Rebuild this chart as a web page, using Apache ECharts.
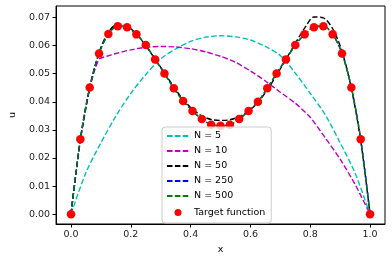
<!DOCTYPE html>
<html>
<head>
<meta charset="utf-8">
<script src="https://cdn.jsdelivr.net/npm/echarts@6/dist/echarts.min.js"></script>
<style>
html,body{margin:0;padding:0;background:#fff;}
#c{width:392px;height:262px;}
</style>
</head>
<body>
<div id="c"></div>
<script>
// ---- data ----
const targetX = [0, 0.03125, 0.0625, 0.09375, 0.125, 0.15625, 0.1875, 0.21875, 0.25, 0.28125, 0.3125, 0.34375, 0.375, 0.40625, 0.4375, 0.46875, 0.5, 0.53125, 0.5625, 0.59375, 0.625, 0.65625, 0.6875, 0.71875, 0.75, 0.78125, 0.8125, 0.84375, 0.875, 0.90625, 0.9375, 0.96875, 1];
const targetY = [0, 0.0267, 0.0451, 0.0572, 0.0641, 0.0669, 0.0665, 0.0640, 0.0602, 0.0551, 0.0501, 0.0448, 0.0403, 0.0367, 0.0339, 0.0318, 0.0315, 0.0318, 0.0339, 0.0367, 0.0400, 0.0448, 0.0501, 0.0551, 0.0602, 0.0640, 0.0665, 0.0669, 0.0640, 0.0572, 0.0451, 0.0267, 0];

const n5X = [0, 0.05, 0.1, 0.15, 0.2, 0.25, 0.3, 0.35, 0.4, 0.45, 0.5, 0.55, 0.6, 0.65, 0.7, 0.75, 0.8, 0.85, 0.9, 0.95, 1];
const n5Y = [0, 0.0148, 0.0254, 0.0349, 0.0430, 0.0497, 0.0553, 0.0588, 0.0615, 0.0630, 0.0635, 0.0631, 0.0620, 0.0597, 0.0565, 0.0502, 0.0430, 0.0354, 0.0254, 0.0146, 0];

const n10X = [0, 0.03125, 0.0625, 0.08, 0.095, 0.12, 0.15, 0.2, 0.25, 0.3, 0.35, 0.4, 0.45, 0.5, 0.55, 0.6, 0.65, 0.7, 0.75, 0.8, 0.85, 0.9, 0.95, 1];
const n10Y = [0, 0.0262, 0.0448, 0.0515, 0.0553, 0.0562, 0.0572, 0.0585, 0.0594, 0.0597, 0.0595, 0.0589, 0.0578, 0.0562, 0.0541, 0.0510, 0.0474, 0.0434, 0.0395, 0.0345, 0.0272, 0.0196, 0.0106, 0];

const n50X = targetX;
const n50Y = [0, 0.0265, 0.0450, 0.0575, 0.0648, 0.0676, 0.0670, 0.0641, 0.0600, 0.0552, 0.0503, 0.0453, 0.0408, 0.0374, 0.0350, 0.0337, 0.0334, 0.0336, 0.0347, 0.0367, 0.0398, 0.0442, 0.0495, 0.0551, 0.0608, 0.0662, 0.0702, 0.0699, 0.0660, 0.0580, 0.0448, 0.0262, 0];

const n250X = targetX;
const n250Y = [0, 0.0267, 0.0451, 0.0572, 0.0642, 0.0670, 0.0666, 0.0640, 0.0602, 0.0551, 0.0501, 0.0448, 0.0403, 0.0367, 0.0339, 0.0318, 0.0315, 0.0318, 0.0339, 0.0367, 0.0400, 0.0448, 0.0501, 0.0551, 0.0602, 0.0641, 0.0667, 0.0670, 0.0641, 0.0572, 0.0451, 0.0267, 0];

const n500X = targetX;
const n500Y = [0, 0.0267, 0.0451, 0.0572, 0.0641, 0.0669, 0.0665, 0.0640, 0.0602, 0.0551, 0.0501, 0.0448, 0.0403, 0.0367, 0.0339, 0.0318, 0.0315, 0.0318, 0.0339, 0.0367, 0.0400, 0.0448, 0.0501, 0.0551, 0.0602, 0.0640, 0.0665, 0.0669, 0.0640, 0.0572, 0.0451, 0.0267, 0];

const xTicks = [0, 0.2, 0.4, 0.6, 0.8, 1.0];
const yTicks = [0, 0.01, 0.02, 0.03, 0.04, 0.05, 0.06, 0.07];
const seriesNames = ['N = 5', 'N = 10', 'N = 50', 'N = 250', 'N = 500', 'Target function'];

// ---- chart ----
const zip = (xs, ys) => xs.map((x, i) => [x, ys[i]]);
const FONT = 'DejaVu Sans';
const dash = [5.5, 2.4];
function lineSeries(name, xs, ys, color, smooth) {
  return {
    name: name, type: 'line', data: zip(xs, ys),
    symbol: 'none', showSymbol: false, smooth: smooth,
    lineStyle: { color: color, width: 1.4, type: dash },
    itemStyle: { color: color },
    z: 2
  };
}

const legendData = seriesNames.map((n, i) => i < 5
  ? { name: n, itemStyle: { opacity: 0 } }
  : { name: n, icon: 'circle', itemStyle: { borderColor: '#ffffff', borderWidth: 3 } });

const chart = echarts.init(document.getElementById('c'), null, { renderer: 'canvas' });
chart.setOption({
  animation: false,
  backgroundColor: '#fff',
  grid: { left: 51, right: 7, top: 6, bottom: 38, show: true, borderColor: '#000', borderWidth: 1, backgroundColor: 'transparent' },
  xAxis: {
    type: 'value', min: -0.05, max: 1.05,
    name: 'x', nameLocation: 'middle', nameGap: 21,
    nameTextStyle: { fontFamily: FONT, fontSize: 9.5, color: '#000' },
    axisLine: { show: true, onZero: false, lineStyle: { color: '#000', width: 1 } },
    axisTick: { show: true, inside: false, length: 3.5, customValues: xTicks, lineStyle: { color: '#000' } },
    axisLabel: { customValues: xTicks, margin: 6, fontFamily: FONT, fontSize: 9.5, color: '#222',
      formatter: v => v.toFixed(1) },
    splitLine: { show: false }
  },
  yAxis: {
    type: 'value', min: -0.0035, max: 0.0741,
    name: 'u', nameLocation: 'middle', nameGap: 37, nameRotate: 90,
    nameTextStyle: { fontFamily: FONT, fontSize: 9.5, color: '#000' },
    axisLine: { show: true, onZero: false, lineStyle: { color: '#000', width: 1 } },
    axisTick: { show: true, inside: false, length: 3.5, customValues: yTicks, lineStyle: { color: '#000' } },
    axisLabel: { customValues: yTicks, margin: 6, fontFamily: FONT, fontSize: 9.5, color: '#222',
      formatter: v => v.toFixed(2) },
    splitLine: { show: false }
  },
  legend: {
    orient: 'vertical', left: 162, top: 127,
    data: legendData,
    itemWidth: 22, itemHeight: 10, itemGap: 5,
    padding: [4, 6, 4, 4],
    backgroundColor: 'rgba(255,255,255,0.8)',
    borderColor: '#cccccc', borderWidth: 1, borderRadius: 3,
    textStyle: { fontFamily: FONT, fontSize: 9.5, color: '#000' },
    z: 10
  },
  series: [
    lineSeries(seriesNames[0], n5X, n5Y, '#00bfbf', 0.3),
    lineSeries(seriesNames[1], n10X, n10Y, '#bf00bf', 0.2),
    lineSeries(seriesNames[2], n50X, n50Y, '#000000', 0.3),
    lineSeries(seriesNames[3], n250X, n250Y, '#0000ff', 0.3),
    lineSeries(seriesNames[4], n500X, n500Y, '#008000', 0.3),
    {
      name: seriesNames[5], type: 'scatter', data: zip(targetX, targetY),
      symbol: 'circle', symbolSize: 8.5,
      itemStyle: { color: '#ff0000', opacity: 1 }, z: 3
    }
  ]
});
</script>
</body>
</html>
